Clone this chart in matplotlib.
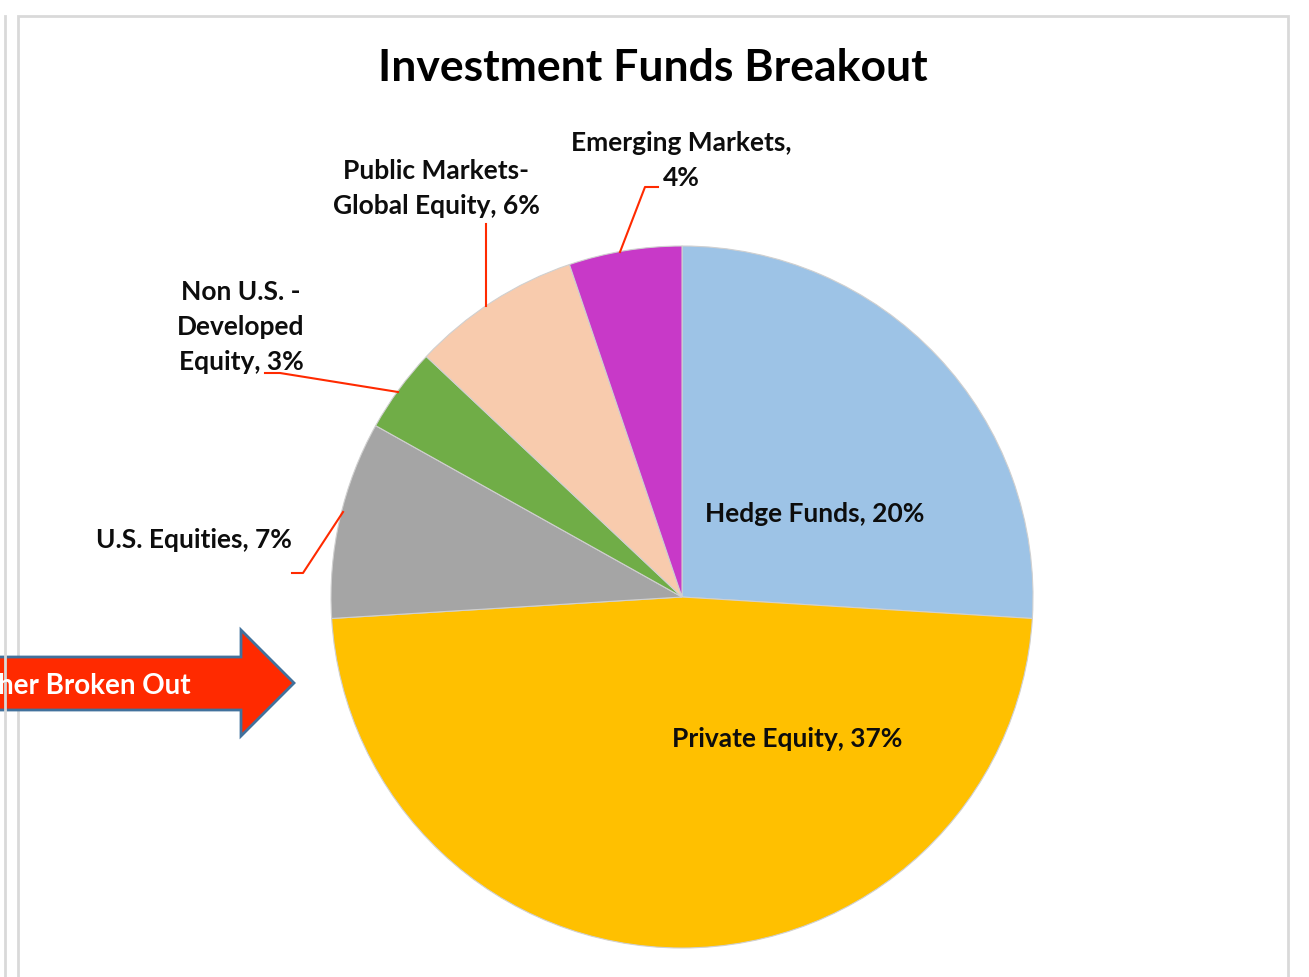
import matplotlib.pyplot as plt
from matplotlib.patches import Polygon, Rectangle

plt.rcParams['font.family'] = ['Lato', 'DejaVu Sans']

# pie data (percent of total fund)
funds = ['Hedge Funds', 'Private Equity', 'U.S. Equities',
         'Non U.S. -\nDeveloped\nEquity', 'Public Markets-\nGlobal Equity',
         'Emerging Markets,\n']
shares = [20, 37, 7, 3, 6, 4]
colors = ['#9DC3E6', '#FFC000', '#A5A5A5', '#70AD47', '#F8CBAD', '#C839C8']

W, H = 1309, 978


def py(y):
    # pixel row -> data y (y up)
    return H - y


fig = plt.figure(figsize=(W / 100, H / 100), dpi=100)
ax = fig.add_axes([0, 0, 1, 1])

ax.pie(shares, colors=colors, startangle=90, counterclock=False,
       center=(682, py(598)), radius=351, frame=True,
       wedgeprops=dict(edgecolor='#D0D0D0', linewidth=0.8))

ax.set_xlim(0, W)
ax.set_ylim(0, H)
ax.set_aspect('equal')
ax.axis('off')

# panel frame
ax.add_patch(Rectangle((18, -10), 1270, py(17) + 10, fill=False,
                       edgecolor='#D9D9D9', linewidth=2))
ax.plot([5, 5], [py(17), -10], color='#D9D9D9', lw=2)

ax.text(653, py(68), 'Investment Funds Breakout', ha='center', va='center',
        fontsize=32, fontweight='bold', color='black')

lab = dict(fontsize=19, fontweight='bold', color='#0D0D0D', linespacing=1.55)
ax.text(815, py(514), f'Hedge Funds, {shares[0]}%', ha='center', va='center', **lab)
ax.text(787, py(739), f'Private Equity, {shares[1]}%', ha='center', va='center', **lab)
ax.text(292, py(540), f'U.S. Equities, {shares[2]}%', ha='right', va='center', **lab)
ax.text(241, py(327), f'Non U.S. -\nDeveloped\nEquity, {shares[3]}%',
        ha='center', va='center', multialignment='center', **lab)
ax.text(436, py(189), f'Public Markets-\nGlobal Equity, {shares[4]}%',
        ha='center', va='center', multialignment='center', **lab)
ax.text(681, py(161), f'Emerging Markets,\n{shares[5]}%',
        ha='center', va='center', multialignment='center', **lab)

# leader lines
red = '#FF2A00'
ax.plot([620, 645, 658], [py(253), py(188), py(188)], color=red, lw=1.5)
ax.plot([486, 486], [py(225), py(307)], color=red, lw=1.5)
ax.plot([398, 280, 265], [py(393), py(374), py(374)], color=red, lw=1.5)
ax.plot([343, 303, 292], [py(513), py(574), py(574)], color=red, lw=1.5)

# arrow pointing at private equity
arrow = [(-20, py(658)), (241, py(658)), (241, py(631)), (294, py(684)),
         (241, py(737)), (241, py(711)), (-20, py(711))]
ax.add_patch(Polygon(arrow, closed=True, facecolor='#FF2A00',
                     edgecolor='#41719C', linewidth=2))
ax.text(191, py(686), 'her Broken Out', ha='right', va='center',
        fontsize=20, fontweight='bold', color='white')

fig.savefig('out.png', dpi=100)
